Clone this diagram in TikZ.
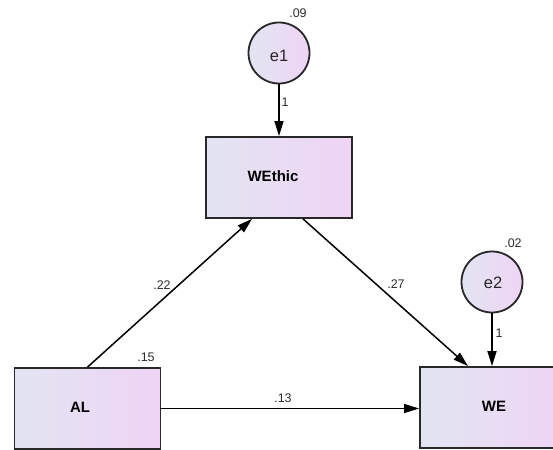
\documentclass[tikz,border=0pt]{standalone}
\usepackage{fontspec}
\setmainfont{Liberation Sans}
\usetikzlibrary{arrows.meta}
\definecolor{shL}{RGB}{226,229,241}
\definecolor{shR}{RGB}{239,212,246}
\definecolor{edge}{RGB}{40,40,40}
\definecolor{numc}{RGB}{45,45,45}
\tikzset{
  varbox/.style={draw=edge, line width=1.8pt, left color=shL, right color=shR,
    minimum width=146pt, minimum height=81pt, inner sep=0pt},
  errcirc/.style={circle, draw=edge, line width=1.8pt, left color=shL, right color=shR,
    minimum size=61pt, inner sep=0pt},
  boxlabel/.style={font=\fontsize{15}{17}\selectfont\bfseries, text=black, inner sep=0pt},
  circlabel/.style={font=\fontsize{16.5}{18}\selectfont, text=black!85, inner sep=0pt},
  numlabel/.style={font=\fontsize{12.5}{14}\selectfont, text=numc, inner sep=0pt},
  path/.style={draw=black, line width=1.5pt, -{Triangle[length=15pt,width=9pt]}}
}
\begin{document}
\begin{tikzpicture}[x=1pt,y=-1pt]
\useasboundingbox (0,0) rectangle (553,449);
\clip (0,0) rectangle (553,449);
% nodes
\node[varbox] (WEthic) at (279,177.5) {};
\node[varbox] (AL) at (87.5,408.5) {};
\node[varbox] (WE) at (493,407.5) {};
\node[errcirc] (e1) at (279,53) {};
\node[errcirc] (e2) at (492,282) {};
% labels in nodes
\node[boxlabel] (tWEthic) at (273,176) {WEthic};
\node[boxlabel] (tAL) at (80,407) {AL};
\node[boxlabel] (tWE) at (494,406) {WE};
\node[circlabel] (te1) at (279,56) {e1};
\node[circlabel] (te2) at (493,283) {e2};
% connectors
\draw[path] (e1.south) -- (WEthic.north);
\draw[path] (e2.south) -- (e2.south |- WE.north);
\draw[path] (AL.north) -- ([xshift=-27pt]WEthic.south);
\draw[path] ([xshift=24pt]WEthic.south) -- ([xshift=-25pt]WE.north);
\draw[path] (AL.east) -- (AL.east -| WE.west);
% numbers
\node[numlabel] (n09) at (298,13) {.09};
\node[numlabel] (n1a) at (285,102) {1};
\node[numlabel] (n22) at (162,285) {.22};
\node[numlabel] (n27) at (396,284) {.27};
\node[numlabel] (n13) at (283,398) {.13};
\node[numlabel] (n15) at (146,357) {.15};
\node[numlabel] (n02) at (513,243) {.02};
\node[numlabel] (n1b) at (499,333) {1};
\end{tikzpicture}
\end{document}
